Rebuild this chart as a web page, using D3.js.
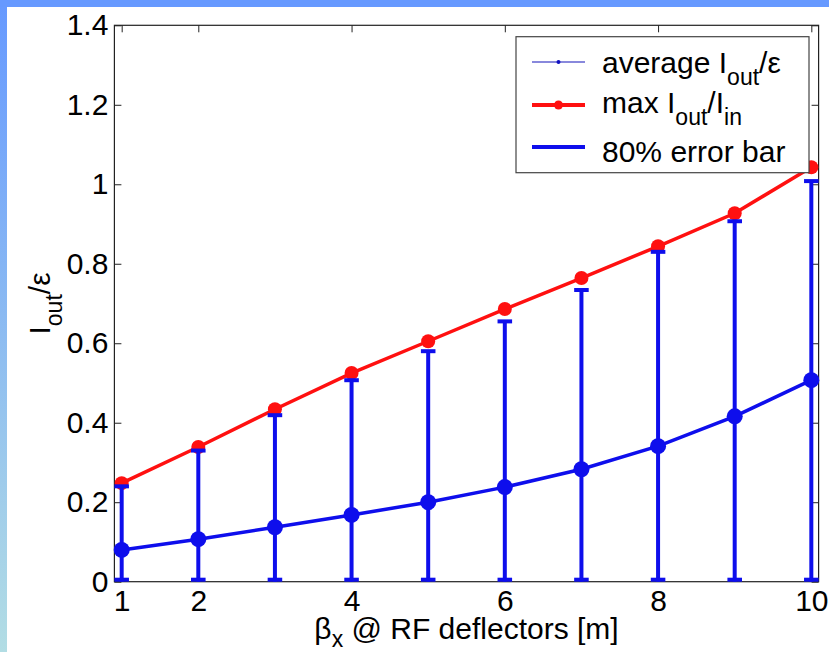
<!DOCTYPE html>
<html>
<head>
<meta charset="utf-8">
<script src="https://cdn.jsdelivr.net/npm/d3@7"></script>
<style>
  body { margin: 0; padding: 0; background: #fff; }
  svg { display: block; }
  text { font-family: "Liberation Sans", Arial, sans-serif; fill: #000; }
</style>
</head>
<body>
<div class="chart"></div>
<script>
var svgWidth = 829;
var svgHeight = 652;

// data
var betaX = [1, 2, 3, 4, 5, 6, 7, 8, 9, 10];
var avgIout = [0.080, 0.107, 0.137, 0.168, 0.200, 0.238, 0.283, 0.341, 0.416, 0.507];
var maxIout = [0.248, 0.339, 0.434, 0.525, 0.605, 0.686, 0.764, 0.844, 0.927, 1.043];
var errLow = [0, 0, 0, 0, 0, 0, 0, 0, 0, 0];
var errHigh = [0.240, 0.330, 0.419, 0.507, 0.580, 0.655, 0.734, 0.830, 0.907, 1.008];
var xTicks = [1, 2, 4, 6, 8, 10];
var yTicks = [0, 0.2, 0.4, 0.6, 0.8, 1, 1.2, 1.4];

var plot = { left: 114.4, right: 818.6, top: 25.3, bottom: 581.7 };
var teeHalf = 0.095;

var blue = "#0e0eec";
var red = "#ff1010";

var svg = d3.select(".chart")
  .append("svg")
  .attr("width", svgWidth)
  .attr("height", svgHeight);

// slide-style background frame
var defs = svg.append("defs");
var grad = defs.append("linearGradient")
  .attr("id", "sideGrad")
  .attr("x1", 0).attr("y1", 0).attr("x2", 0).attr("y2", 1);
grad.append("stop").attr("offset", "0%").attr("stop-color", "#6699ff");
grad.append("stop").attr("offset", "100%").attr("stop-color", "#b2dde4");

svg.append("rect").attr("x", 0).attr("y", 0).attr("width", svgWidth).attr("height", svgHeight).attr("fill", "#fff");
svg.append("rect").attr("x", 0).attr("y", 0).attr("width", 7).attr("height", svgHeight).attr("fill", "url(#sideGrad)");
svg.append("rect").attr("x", 0).attr("y", 0).attr("width", svgWidth).attr("height", 7).attr("fill", "#6699ff");

var xScale = d3.scaleLinear()
  .domain([1 - teeHalf, 10 + teeHalf])
  .range([plot.left, plot.right]);

var yScale = d3.scaleLinear()
  .domain([0, 1.4])
  .range([plot.bottom, plot.top]);

function styleAxis(g) {
  g.select(".domain").remove();
  g.selectAll(".tick line").attr("stroke", "#222").attr("stroke-width", 1);
  g.selectAll(".tick text")
    .attr("font-size", "30px")
    .attr("font-family", "Liberation Sans, Arial, sans-serif")
    .attr("fill", "#000");
}

var bottomAxis = d3.axisBottom(xScale).tickValues(xTicks).tickSize(-7).tickPadding(8).tickFormat(d3.format("d"));
var topAxis = d3.axisTop(xScale).tickValues(xTicks).tickSize(-7).tickFormat("");
var leftAxis = d3.axisLeft(yScale).tickValues(yTicks).tickSize(-7).tickPadding(6).tickFormat(d => d === 0 || d === 1 ? d3.format("d")(d) : d3.format(".1f")(d));
var rightAxis = d3.axisRight(yScale).tickValues(yTicks).tickSize(-7).tickFormat("");

svg.append("g").attr("transform", `translate(0, ${plot.bottom})`).call(bottomAxis).call(styleAxis);
svg.append("g").attr("transform", `translate(0, ${plot.top})`).call(topAxis).call(styleAxis);
svg.append("g").attr("transform", `translate(${plot.left}, 0)`).call(leftAxis).call(styleAxis);
svg.append("g").attr("transform", `translate(${plot.right}, 0)`).call(rightAxis).call(styleAxis);

svg.append("rect")
  .attr("x", plot.left)
  .attr("y", plot.top)
  .attr("width", plot.right - plot.left)
  .attr("height", plot.bottom - plot.top)
  .attr("fill", "none")
  .attr("stroke", "#222")
  .attr("stroke-width", 1.2);

var maxData = betaX.map((b, i) => ({ x: b, y: maxIout[i] }));
var avgData = betaX.map((b, i) => ({ x: b, y: avgIout[i], lo: errLow[i], hi: errHigh[i] }));

var line = d3.line()
  .x(d => xScale(d.x))
  .y(d => yScale(d.y));

// red max curve
svg.append("path")
  .datum(maxData)
  .attr("d", line)
  .attr("fill", "none")
  .attr("stroke", red)
  .attr("stroke-width", 3.5);

svg.selectAll(".maxDot")
  .data(maxData)
  .enter()
  .append("circle")
  .attr("class", "maxDot")
  .attr("cx", d => xScale(d.x))
  .attr("cy", d => yScale(d.y))
  .attr("r", 7)
  .attr("fill", red);

// blue error bars
var errGroup = svg.append("g")
  .attr("stroke", blue)
  .attr("stroke-width", 4);

errGroup.selectAll(".stem")
  .data(avgData)
  .enter()
  .append("line")
  .attr("x1", d => xScale(d.x))
  .attr("x2", d => xScale(d.x))
  .attr("y1", d => yScale(d.lo))
  .attr("y2", d => yScale(d.hi));

errGroup.selectAll(".teeHi")
  .data(avgData)
  .enter()
  .append("line")
  .attr("x1", d => xScale(d.x - teeHalf))
  .attr("x2", d => xScale(d.x + teeHalf))
  .attr("y1", d => yScale(d.hi))
  .attr("y2", d => yScale(d.hi));

errGroup.selectAll(".teeLo")
  .data(avgData)
  .enter()
  .append("line")
  .attr("x1", d => xScale(d.x - teeHalf))
  .attr("x2", d => xScale(d.x + teeHalf))
  .attr("y1", d => yScale(d.lo) - 2)
  .attr("y2", d => yScale(d.lo) - 2);

// blue average curve
svg.append("path")
  .datum(avgData)
  .attr("d", line)
  .attr("fill", "none")
  .attr("stroke", blue)
  .attr("stroke-width", 3.5);

svg.selectAll(".avgDot")
  .data(avgData)
  .enter()
  .append("circle")
  .attr("class", "avgDot")
  .attr("cx", d => xScale(d.x))
  .attr("cy", d => yScale(d.y))
  .attr("r", 8)
  .attr("fill", blue);

// legend
var legend = svg.append("g");
legend.append("rect")
  .attr("x", 516)
  .attr("y", 36.7)
  .attr("width", 293)
  .attr("height", 136)
  .attr("fill", "#fff")
  .attr("stroke", "#444")
  .attr("stroke-width", 1.2);

var lx1 = 532, lx2 = 585, tx = 602;

legend.append("line").attr("x1", lx1).attr("x2", lx2).attr("y1", 62).attr("y2", 62)
  .attr("stroke", "#6060d0").attr("stroke-width", 1.5);
legend.append("circle").attr("cx", (lx1 + lx2) / 2).attr("cy", 62).attr("r", 2).attr("fill", "#1010c0");

legend.append("line").attr("x1", lx1).attr("x2", lx2).attr("y1", 105).attr("y2", 105)
  .attr("stroke", red).attr("stroke-width", 4);
legend.append("circle").attr("cx", (lx1 + lx2) / 2).attr("cy", 105).attr("r", 4.5).attr("fill", red);

legend.append("line").attr("x1", lx1).attr("x2", lx2).attr("y1", 147).attr("y2", 147)
  .attr("stroke", blue).attr("stroke-width", 4);

var t1 = legend.append("text").attr("x", tx).attr("y", 73).attr("font-size", "30px");
t1.append("tspan").text("average I");
t1.append("tspan").attr("font-size", "23px").attr("dy", 12).text("out");
t1.append("tspan").attr("dy", -12).text("/ε");

var t2 = legend.append("text").attr("x", tx).attr("y", 113).attr("font-size", "30px");
t2.append("tspan").text("max I");
t2.append("tspan").attr("font-size", "23px").attr("dy", 12).text("out");
t2.append("tspan").attr("dy", -12).text("/I");
t2.append("tspan").attr("font-size", "23px").attr("dy", 12).text("in");

legend.append("text").attr("x", tx).attr("y", 162).attr("font-size", "30px").text("80% error bar");

// axis labels
var xl = svg.append("text")
  .attr("x", (plot.left + plot.right) / 2)
  .attr("y", 639)
  .attr("text-anchor", "middle")
  .attr("font-size", "30px");
xl.append("tspan").text("β");
xl.append("tspan").attr("font-size", "23px").attr("dy", 8).text("x");
xl.append("tspan").attr("dy", -8).text(" @ RF deflectors [m]");

var yl = svg.append("text")
  .attr("transform", `translate(50, ${(plot.top + plot.bottom) / 2}) rotate(-90)`)
  .attr("text-anchor", "middle")
  .attr("font-size", "30px");
yl.append("tspan").text("I");
yl.append("tspan").attr("font-size", "23px").attr("dy", 12).text("out");
yl.append("tspan").attr("dy", -12).text("/ε");
</script>
</body>
</html>
